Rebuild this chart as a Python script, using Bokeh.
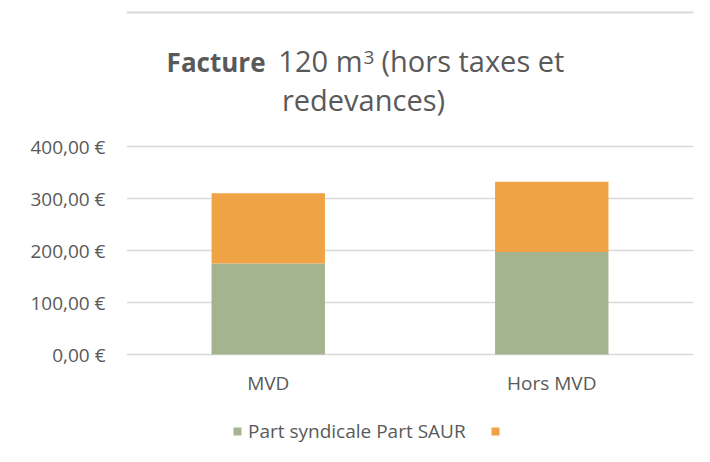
from bokeh.plotting import figure
from bokeh.models import (FactorRange, Range1d, FixedTicker, Legend, LegendItem,
                          Label, Span)
from bokeh.core.properties import value
from bokeh.embed import file_html
from bokeh.resources import INLINE

# ---- data ----
categories = ["MVD", "Hors MVD"]
series_names = ["Part syndicale", "Part SAUR"]
part_syndicale = [175.0, 197.0]
part_saur = [135.0, 135.0]
y_ticks = [0, 100, 200, 300, 400]
y_tick_labels = ["0,00 €", "100,00 €", "200,00 €", "300,00 €", "400,00 €"]
legend_labels = ["Part syndicale Part SAUR", " "]

colors = ["#a4b48f", "#f0a345"]
FONT = "Open Sans"
GRAY = "#595959"

# ---- layout (page pixels) ----
W, H = 704, 456
FR_L, FR_R = 126, 693      # plot frame left/right (gridline extent)
Y0_PX, Y400_PX = 354, 146  # pixel rows of 0 and 400
PX_PER_UNIT = (Y0_PX - Y400_PX) / 400.0

def ydata(py):
    return (Y0_PX - py) / PX_PER_UNIT

def sx(px):
    return px - FR_L

# frame spans the full canvas height; axis ticks limited to 0..400
p = figure(x_range=FactorRange(*categories, range_padding=0),
           y_range=Range1d(ydata(H), ydata(0)),
           width=W, height=H, output_backend="svg", toolbar_location=None,
           min_border_left=FR_L, min_border_right=W - FR_R,
           min_border_top=0, min_border_bottom=0)
p.outline_line_color = None
p.background_fill_color = "white"
p.border_fill_color = "white"

# chart-area top border
p.add_layout(Span(location=ydata(12), dimension="width",
                  line_color="#d9d9d9", line_width=2))

data = {"cat": categories, "s": part_syndicale, "r": part_saur}
rs = p.vbar_stack(["s", "r"], x="cat", width=0.4, color=colors, source=data,
                  line_color=None)

# y axis
p.yaxis.ticker = FixedTicker(ticks=y_ticks)
p.yaxis.major_label_overrides = {t: l for t, l in zip(y_ticks, y_tick_labels)}
p.yaxis.axis_line_color = None
p.yaxis.major_tick_line_color = None
p.yaxis.minor_tick_line_color = None
p.yaxis.major_label_text_font = FONT
p.yaxis.major_label_text_font_size = "19px"
p.yaxis.major_label_text_color = GRAY
p.yaxis.major_label_standoff = 15
p.xaxis.visible = False
p.xgrid.grid_line_color = None
p.ygrid.grid_line_color = "#d9d9d9"
p.ygrid.grid_line_width = 1.5

# category labels under the bars
p.text(x=categories, y=[ydata(382)] * len(categories), text=categories,
       text_align="center", text_baseline="alphabetic",
       text_font=value(FONT), text_font_size="19px", text_color=GRAY)

# legend (inside the frame, under the category labels)
legend = Legend(items=[LegendItem(label=legend_labels[0], renderers=[rs[0]]),
                       LegendItem(label=legend_labels[1], renderers=[rs[1]])],
                orientation="horizontal", location=(sx(232), H - 444),
                padding=0, margin=0, spacing=24,
                glyph_width=10, glyph_height=10, label_standoff=6,
                label_text_font=FONT, label_text_font_size="19px",
                label_text_color=GRAY, border_line_color=None,
                background_fill_alpha=0)
p.add_layout(legend, "center")

# title
tf = "29px"
common = dict(x_units="screen", y_units="data", text_baseline="alphabetic",
              text_font=FONT, text_color=GRAY)
p.add_layout(Label(x=sx(265), y=ydata(61), text="Facture", text_align="right",
                   text_font_style="bold", text_font_size="26px", **common))
p.add_layout(Label(x=sx(362), y=ydata(60), text="120 m", text_align="right",
                   text_font_size=tf, **common))
p.add_layout(Label(x=sx(363), y=ydata(57), text="3", text_align="left",
                   text_font_size="19px", **common))
p.add_layout(Label(x=sx(381), y=ydata(60), text="(hors taxes et", text_align="left",
                   text_font_size=tf, **common))
p.add_layout(Label(x=sx(363), y=ydata(99), text="redevances)", text_align="center",
                   text_font_size=tf, **common))

open("out.html", "w").write(file_html(p, INLINE))
